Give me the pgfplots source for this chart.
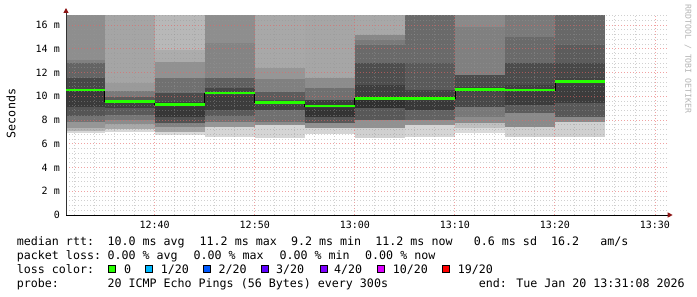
\documentclass[border=0pt]{standalone}
\usepackage{pgfplots}
\pgfplotsset{compat=1.18}
\usepackage{fontspec}
\usetikzlibrary{arrows.meta}
\newfontfamily\mono{DejaVu Sans Mono}
\newcommand{\legfont}{\mono\fontsize{11.65bp}{13bp}\selectfont}
\newcommand{\tickfont}{\mono\fontsize{10bp}{12bp}\selectfont}
\newcommand{\wmfont}{\mono\fontsize{8.2bp}{9bp}\selectfont}
\definecolor{arrowred}{RGB}{140,20,20}
\definecolor{mgrid}{RGB}{230,100,100}
\definecolor{mingrid}{RGB}{150,150,150}
\definecolor{med}{RGB}{38,255,0}
\definecolor{cA}{RGB}{38,255,0}
\definecolor{cB}{RGB}{0,184,255}
\definecolor{cC}{RGB}{0,89,255}
\definecolor{cD}{RGB}{94,0,255}
\definecolor{cE}{RGB}{126,0,255}
\definecolor{cF}{RGB}{221,0,255}
\definecolor{cG}{RGB}{255,0,0}
\definecolor{wm}{RGB}{180,180,180}
% smoke band: x1, x2, lower value, grey level (band reaches the top)
\newcommand{\seg}[4]{\addplot[draw=none,fill={rgb,255:red,#4;green,#4;blue,#4},forget plot] coordinates {(#1,#3) (#2,#3) (#2,16.84) (#1,16.84)};}
\begin{document}
\begin{tikzpicture}
\begin{axis}[
  at={(0,0)}, anchor=south west,
  scale only axis, width=600.3bp, height=200bp,
  xmin=31.133, xmax=91.133, ymin=0, ymax=16.84,
  axis x line*=bottom, axis y line*=left,
  x axis line style={black, line width=1bp, -{Triangle[width=5bp,length=5bp,color=arrowred]}, shorten >=-6.4bp},
  y axis line style={black!80, line width=1bp, -{Triangle[width=5bp,length=5bp,color=arrowred]}, shorten >=-7bp},
  xtick={40,50,60,70,80,90},
  xticklabels={12:40,12:50,13:00,13:10,13:20,13:30},
  ytick={0,2,4,6,8,10,12,14,16},
  yticklabels={0,2 m,4 m,6 m,8 m,10 m,12 m,14 m,16 m},
  minor xtick={32,34,36,38,42,44,46,48,52,54,56,58,62,64,66,68,72,74,76,78,82,84,86,88},
  minor ytick={0.4,0.8,1.2,1.6,2.4,2.8,3.2,3.6,4.4,4.8,5.2,5.6,6.4,6.8,7.2,7.6,8.4,8.8,9.2,9.6,10.4,10.8,11.2,11.6,12.4,12.8,13.2,13.6,14.4,14.8,15.2,15.6,16.4,16.8},
  grid=both,
  major grid style={mgrid, opacity=0.6, line width=0.9bp, dash pattern=on 1bp off 2bp},
  minor grid style={mingrid, opacity=0.45, line width=0.9bp, dash pattern=on 1bp off 2bp},
  tick style={draw=none},
  xticklabel style={font=\tickfont, inner sep=0pt, anchor=north, yshift=-5.5bp},
  yticklabel style={font=\tickfont, inner sep=0pt, anchor=east, xshift=-6bp},
  set layers=axis on top,
]
% bar 1
\seg{31.133}{35.03}{6.88}{215}\seg{31.133}{35.03}{7.05}{180}\seg{31.133}{35.03}{7.3}{150}\seg{31.133}{35.03}{7.85}{115}
\seg{31.133}{35.03}{8.3}{85}\seg{31.133}{35.03}{9.1}{58}\seg{31.133}{35.03}{10.5}{72}\seg{31.133}{35.03}{11.5}{100}
\seg{31.133}{35.03}{12.8}{128}\seg{31.133}{35.03}{13.05}{142}
% bar 2
\seg{35}{40.03}{6.95}{215}\seg{35}{40.03}{7.2}{168}\seg{35}{40.03}{7.7}{140}\seg{35}{40.03}{8.0}{118}
\seg{35}{40.03}{8.4}{90}\seg{35}{40.03}{9.0}{64}\seg{35}{40.03}{9.6}{90}\seg{35}{40.03}{9.9}{122}
\seg{35}{40.03}{10.4}{154}\seg{35}{40.03}{11.1}{165}
% bar 3
\seg{40}{45.03}{6.7}{218}\seg{40}{45.03}{7.02}{165}\seg{40}{45.03}{7.44}{130}\seg{40}{45.03}{7.72}{82}
\seg{40}{45.03}{8.28}{55}\seg{40}{45.03}{9.12}{60}\seg{40}{45.03}{9.55}{75}\seg{40}{45.03}{10.25}{112}
\seg{40}{45.03}{11.5}{145}\seg{40}{45.03}{12.9}{172}\seg{40}{45.03}{13.9}{184}
% bar 4
\seg{45}{50.03}{6.6}{214}\seg{45}{50.03}{7.44}{150}\seg{45}{50.03}{7.86}{115}\seg{45}{50.03}{8.3}{90}
\seg{45}{50.03}{8.84}{60}\seg{45}{50.03}{10.1}{70}\seg{45}{50.03}{10.67}{96}\seg{45}{50.03}{11.5}{132}
\seg{45}{50.03}{14.45}{142}
% bar 5
\seg{50}{55.03}{6.46}{213}\seg{50}{55.03}{7.58}{140}\seg{50}{55.03}{7.86}{112}\seg{50}{55.03}{8.84}{66}
\seg{50}{55.03}{9.26}{72}\seg{50}{55.03}{9.68}{92}\seg{50}{55.03}{10.39}{128}\seg{50}{55.03}{11.43}{150}
\seg{50}{55.03}{12.35}{168}
% bar 6
\seg{55}{60.03}{6.82}{213}\seg{55}{60.03}{7.3}{145}\seg{55}{60.03}{7.72}{88}\seg{55}{60.03}{8.28}{52}
\seg{55}{60.03}{9.0}{60}\seg{55}{60.03}{9.68}{112}\seg{55}{60.03}{10.67}{140}\seg{55}{60.03}{11.5}{166}
% bar 7
\seg{60}{65.03}{6.45}{208}\seg{60}{65.03}{7.3}{145}\seg{60}{65.03}{8.0}{88}\seg{60}{65.03}{8.98}{48}
\seg{60}{65.03}{9.68}{58}\seg{60}{65.03}{10.02}{62}\seg{60}{65.03}{10.95}{78}\seg{60}{65.03}{12.77}{106}
\seg{60}{65.03}{14.3}{122}\seg{60}{65.03}{14.74}{136}\seg{60}{65.03}{15.16}{168}
% bar 8
\seg{65}{70.03}{6.6}{213}\seg{65}{70.03}{7.58}{145}\seg{65}{70.03}{8.0}{98}\seg{65}{70.03}{8.84}{56}
\seg{65}{70.03}{9.63}{60}\seg{65}{70.03}{10.02}{66}\seg{65}{70.03}{10.53}{90}\seg{65}{70.03}{12.77}{106}
% bar 9
\seg{70}{75.03}{6.88}{218}\seg{70}{75.03}{7.3}{192}\seg{70}{75.03}{7.72}{140}\seg{70}{75.03}{8.28}{120}
\seg{70}{75.03}{9.12}{72}\seg{70}{75.03}{10.39}{64}\seg{70}{75.03}{10.8}{76}\seg{70}{75.03}{11.8}{128}
\seg{70}{75.03}{15.86}{138}
% bar 10
\seg{75}{80.03}{6.6}{208}\seg{75}{80.03}{7.44}{138}\seg{75}{80.03}{8.56}{92}\seg{75}{80.03}{9.26}{60}
\seg{75}{80.03}{10.39}{64}\seg{75}{80.03}{10.95}{76}\seg{75}{80.03}{12.77}{106}\seg{75}{80.03}{15.02}{122}
% bar 11
\seg{80}{85}{6.6}{208}\seg{80}{85}{7.86}{138}\seg{80}{85}{8.28}{88}\seg{80}{85}{9.4}{60}
\seg{80}{85}{11.03}{66}\seg{80}{85}{11.5}{72}\seg{80}{85}{12.77}{92}\seg{80}{85}{14.3}{104}
% median
\addplot[const plot, black, line width=0.7bp, on layer=axis foreground, forget plot] coordinates {
(31.133,10.53) (35,9.54) (40,9.32) (45,10.27) (50,9.46) (55,9.18) (60,9.82) (65,9.80) (70,10.58) (75,10.53) (80,11.23) (85,11.23)};
\addplot[med, line width=2.6bp, unbounded coords=jump, on layer=axis foreground, forget plot] coordinates {
(31.133,10.53) (35,10.53) (35,nan)
(35,9.54) (40,9.54) (40,nan)
(40,9.32) (45,9.32) (45,nan)
(45,10.27) (50,10.27) (50,nan)
(50,9.46) (55,9.46) (55,nan)
(55,9.18) (60,9.18) (60,nan)
(60,9.82) (65,9.82) (65,nan)
(65,9.80) (70,9.80) (70,nan)
(70,10.58) (75,10.58) (75,nan)
(75,10.53) (80,10.53) (80,nan)
(80,11.23) (85,11.23)};
\end{axis}
\node[rotate=90, font=\legfont, inner sep=0pt] at (-55bp,101.5bp) {Seconds};
\node[rotate=-90, font=\wmfont, text=wm, inner sep=0pt] at (622bp,156bp) {RRDTOOL / TOBI OETIKER};
% line 1
\node[anchor=base west, inner sep=0pt, font=\legfont] at (-49.3bp,-30bp) {median rtt:};
\node[anchor=base west, inner sep=0pt, font=\legfont] at (41.3bp,-30bp) {10.0 ms avg};
\node[anchor=base west, inner sep=0pt, font=\legfont] at (133.5bp,-30bp) {11.2 ms max};
\node[anchor=base west, inner sep=0pt, font=\legfont] at (224.9bp,-30bp) {9.2 ms min};
\node[anchor=base west, inner sep=0pt, font=\legfont] at (309.2bp,-30bp) {11.2 ms now};
\node[anchor=base west, inner sep=0pt, font=\legfont] at (407.7bp,-30bp) {0.6 ms sd};
\node[anchor=base west, inner sep=0pt, font=\legfont] at (485bp,-30bp) {16.2};
\node[anchor=base west, inner sep=0pt, font=\legfont] at (534.2bp,-30bp) {am/s};
% line 2
\node[anchor=base west, inner sep=0pt, font=\legfont] at (-49.3bp,-44bp) {packet loss:};
\node[anchor=base west, inner sep=0pt, font=\legfont] at (41.3bp,-44bp) {0.00 \% avg};
\node[anchor=base west, inner sep=0pt, font=\legfont] at (127.3bp,-44bp) {0.00 \% max};
\node[anchor=base west, inner sep=0pt, font=\legfont] at (213.3bp,-44bp) {0.00 \% min};
\node[anchor=base west, inner sep=0pt, font=\legfont] at (299bp,-44bp) {0.00 \% now};
% line 3
\node[anchor=base west, inner sep=0pt, font=\legfont] at (-49.3bp,-58bp) {loss color:};
\draw[fill=cA, line width=0.8bp] (42.3bp,-57.7bp) rectangle ++(7bp,7bp);
\draw[fill=cB, line width=0.8bp] (79.7bp,-57.7bp) rectangle ++(7bp,7bp);
\draw[fill=cC, line width=0.8bp] (137.3bp,-57.7bp) rectangle ++(7bp,7bp);
\draw[fill=cD, line width=0.8bp] (195.7bp,-57.7bp) rectangle ++(7bp,7bp);
\draw[fill=cE, line width=0.8bp] (254bp,-57.7bp) rectangle ++(7bp,7bp);
\draw[fill=cF, line width=0.8bp] (311.7bp,-57.7bp) rectangle ++(7bp,7bp);
\draw[fill=cG, line width=0.8bp] (376.7bp,-57.7bp) rectangle ++(7bp,7bp);
\node[anchor=base west, inner sep=0pt, font=\legfont] at (58bp,-58bp) {0};
\node[anchor=base west, inner sep=0pt, font=\legfont] at (94.7bp,-58bp) {1/20};
\node[anchor=base west, inner sep=0pt, font=\legfont] at (152.3bp,-58bp) {2/20};
\node[anchor=base west, inner sep=0pt, font=\legfont] at (210bp,-58bp) {3/20};
\node[anchor=base west, inner sep=0pt, font=\legfont] at (268bp,-58bp) {4/20};
\node[anchor=base west, inner sep=0pt, font=\legfont] at (326.7bp,-58bp) {10/20};
\node[anchor=base west, inner sep=0pt, font=\legfont] at (391.7bp,-58bp) {19/20};
% line 4
\node[anchor=base west, inner sep=0pt, font=\legfont] at (-49.3bp,-72bp) {probe:};
\node[anchor=base west, inner sep=0pt, font=\legfont] at (41.3bp,-72bp) {20 ICMP Echo Pings (56 Bytes) every 300s};
\node[anchor=base west, inner sep=0pt, font=\legfont] at (412.7bp,-72bp) {end: Tue Jan 20 13:31:08 2026};
\pgfresetboundingbox
\path[use as bounding box] (-66bp,-82bp) rectangle (631bp,215bp);
\end{tikzpicture}
\end{document}
